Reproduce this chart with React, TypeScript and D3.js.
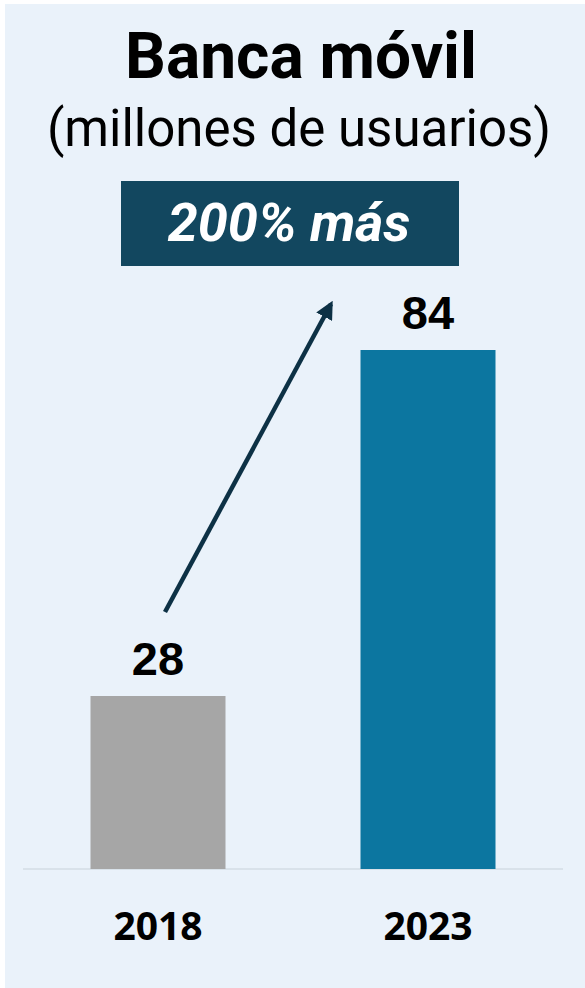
import React from "react";
import * as d3 from "d3";

const categories = ["2018", "2023"];
const values = [28, 84];
const barColors = ["#A6A6A6", "#0C76A0"];
const title = "Banca móvil";
const subtitle = "(millones de usuarios)";
const badge = "200% más";

const W = 585;
const H = 988;

export default function App() {
  const x = d3.scaleBand<string>().domain(categories).range([23, 563]).paddingInner(0.5).paddingOuter(0.25);
  const y = d3.scaleLinear().domain([0, 84]).range([869, 350]);
  const bw = x.bandwidth();
  const cx = (c: string) => (x(c) as number) + bw / 2;
  const font = "Roboto, 'Noto Sans', sans-serif";

  const x0 = cx(categories[0]) + 7;
  const y0 = y(values[0]) - 84;
  const x1 = cx(categories[1]) - 97;
  const y1 = y(values[1]) - 46;

  return (
    <div style={{ position: "absolute", left: 0, top: 0 }}>
      <svg width={W} height={H} style={{ display: "block" }}>
        <defs>
          <marker id="ah" viewBox="0 0 10 10" refX="8" refY="5" markerWidth="4" markerHeight="4" orient="auto">
            <path d="M0,0 L10,5 L0,10 z" fill="#0D3145" />
          </marker>
        </defs>
        <rect x={0} y={0} width={W} height={H} fill="#ffffff" />
        <rect x={5} y={4} width={W - 5} height={H - 4} fill="#EAF2FA" />
        <text x={301} y={78} textAnchor="middle" fontFamily={font} fontWeight={700} fontSize={64} fill="#000">{title}</text>
        <text x={299} y={146} textAnchor="middle" fontFamily={font} fontWeight={400} fontSize={51} fill="#000">{subtitle}</text>
        <rect x={121} y={181} width={338} height={85} fill="#12475F" />
        <text x={289} y={241} textAnchor="middle" fontFamily={font} fontWeight={700} fontStyle="italic" fontSize={54} fill="#fff">{badge}</text>
        <line x1={23} x2={563} y1={y(0)} y2={y(0)} stroke="#D3DCE5" strokeWidth={1.5} />
        {categories.map((c, i) => (
          <g key={c}>
            <rect x={x(c)} y={y(values[i])} width={bw} height={y(0) - y(values[i])} fill={barColors[i]} />
            <text x={cx(c)} y={y(values[i]) - 21} textAnchor="middle" fontFamily="'Liberation Sans', Arial, sans-serif" fontWeight={700} fontSize={47} fill="#000">{values[i]}</text>
            <text x={cx(c)} y={940} textAnchor="middle" fontFamily="'Open Sans', sans-serif" fontWeight={700} fontSize={39} fill="#000">{c}</text>
          </g>
        ))}
        <line x1={x0} y1={y0} x2={x1} y2={y1} stroke="#0D3145" strokeWidth={4.5} markerEnd="url(#ah)" />
      </svg>
    </div>
  );
}
